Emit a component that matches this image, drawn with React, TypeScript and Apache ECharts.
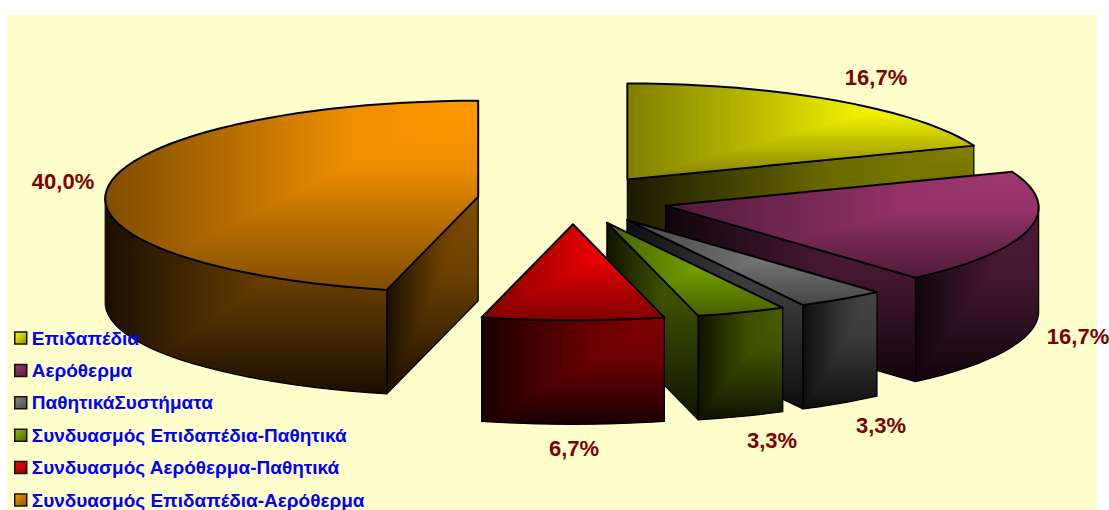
import React, { useEffect, useRef } from "react";
import * as echarts from "echarts";

const categories = [
  "Επιδαπέδια",
  "Αερόθερμα",
  "ΠαθητικάΣυστήματα",
  "Συνδυασμός Επιδαπέδια-Παθητικά",
  "Συνδυασμός Αερόθερμα-Παθητικά",
  "Συνδυασμός Επιδαπέδια-Αερόθερμα",
];
const values = [16.7, 16.7, 3.3, 3.3, 6.7, 40.0];
const palette = ["#FFFF00", "#A03670", "#8A8A8A", "#8CBF00", "#FF0000", "#FF9900"];
const labelAnchors = [
  [876, 77],
  [1078, 336],
  [881, 425],
  [772, 440],
  [574, 448],
  [63, 181],
];

const CX = 573;
const CY = 199.7;
const RX = 373;
const RY = 96;
const WALL = 104;
const EXPLODE = 0.256;
const NEAR_WIDEN = 0.02;
const ARC_STEP = 3;

const total = values.reduce((a, b) => a + b, 0);
const rad = (d: number) => (d * Math.PI) / 180;

type Pt = [number, number];

function shade(hex: string, k: number) {
  const n = parseInt(hex.slice(1), 16);
  const c = [(n >> 16) & 255, (n >> 8) & 255, n & 255].map((v) => Math.round(v * k));
  return `rgb(${c[0]},${c[1]},${c[2]})`;
}

function arcPts(c: Pt, a: number, b: number, dy = 0): Pt[] {
  const out: Pt[] = [];
  const n = Math.max(1, Math.ceil((b - a) / ARC_STEP));
  for (let i = 0; i <= n; i++) {
    const t = rad(a + ((b - a) * i) / n);
    const widen = 1 - NEAR_WIDEN * Math.cos(t);
    out.push([c[0] + RX * Math.sin(t) * widen, c[1] - RY * Math.cos(t) + dy]);
  }
  return out;
}

// keeps the part of the polygon on the lower-right of the line p -> q
function clipHalf(poly: Pt[], p: Pt, q: Pt): Pt[] {
  const side = (m: Pt) => (q[0] - p[0]) * (m[1] - p[1]) - (q[1] - p[1]) * (m[0] - p[0]);
  const out: Pt[] = [];
  for (let i = 0; i < poly.length; i++) {
    const a = poly[i];
    const b = poly[(i + 1) % poly.length];
    const sa = side(a);
    const sb = side(b);
    if (sa >= 0) out.push(a);
    if ((sa < 0 && sb > 0) || (sa > 0 && sb < 0)) {
      const t = sa / (sa - sb);
      out.push([a[0] + (b[0] - a[0]) * t, a[1] + (b[1] - a[1]) * t]);
    }
  }
  return out;
}

const TOP_LEVELS: Pt[] = [[0, 1], [0.35, 0.93], [0.65, 0.72], [1, 0.5]];
const WALL_LEVELS: Pt[] = [[0, 0.5], [0.4, 0.42], [1, 0.1]];

function facet(poly: Pt[], hex: string, levels: Pt[], lineWidth: number) {
  const xs = poly.map((p) => p[0]);
  const ys = poly.map((p) => p[1]);
  const xl = Math.min(...xs);
  const xr = Math.max(...xs);
  const yt = Math.min(...ys);
  const yb = Math.max(...ys);
  const stops = levels.map(([offset, k]) => ({ offset, color: shade(hex, k) }));
  const horiz = new echarts.graphic.LinearGradient(xr, 0, xl, 0, stops, true);
  const vert = new echarts.graphic.LinearGradient(0, yt, 0, yb, stops, true);
  const lower = clipHalf(poly, [xl, yb], [xr, yt]);
  const kids: any[] = [
    { type: "polygon", shape: { points: poly }, style: { fill: horiz } },
  ];
  if (lower.length > 2) {
    kids.push({ type: "polygon", shape: { points: lower }, style: { fill: vert } });
  }
  kids.push({
    type: "polygon",
    shape: { points: poly },
    style: { fill: "none", stroke: "#000", lineWidth, lineJoin: "round" },
  });
  return kids;
}

function renderSlice(index: number) {
  return (_params: any, api: any) => {
    const before = values.slice(0, index).reduce((a, b) => a + b, 0);
    const value = api.value(0) as number;
    const a = (before / total) * 360;
    const b = ((before + value) / total) * 360;
    const mid = rad((a + b) / 2);
    const c: Pt = [
      CX + EXPLODE * RX * Math.sin(mid),
      CY - EXPLODE * RY * Math.cos(mid),
    ];
    const hex = palette[index];
    const children: any[] = [];
    const radialWall = (ang: number) => {
      const [e] = arcPts(c, ang, ang);
      const poly: Pt[] = [c, e, [e[0], e[1] + WALL], [c[0], c[1] + WALL]];
      children.push(...facet(poly, hex, WALL_LEVELS, 1.2));
    };
    if (Math.sin(rad(b)) > 0.01) radialWall(b);
    if (Math.sin(rad(a)) < -0.01) radialWall(a);
    const wa = Math.max(a, 90);
    const wb = Math.min(b, 270);
    if (wb > wa) {
      const poly = [
        ...arcPts(c, wa, wb),
        ...arcPts(c, wa, wb, WALL).reverse(),
      ];
      children.push(...facet(poly, hex, WALL_LEVELS, 1.2));
    }
    children.push(...facet([c, ...arcPts(c, a, b)], hex, TOP_LEVELS, 2));
    const [lx, ly] = labelAnchors[index];
    children.push({
      type: "text",
      x: lx,
      y: ly,
      z2: 10,
      style: {
        text: value.toFixed(1).replace(".", ",") + "%",
        fill: "#800000",
        font: 'bold 22px "Liberation Sans", Arial, sans-serif',
        align: "center",
        verticalAlign: "middle",
      },
    });
    return { type: "group", children };
  };
}

export default function App() {
  const ref = useRef<HTMLDivElement>(null);
  useEffect(() => {
    document.body.style.margin = "0";
    const chart = echarts.init(ref.current!, undefined, { renderer: "svg" });
    chart.setOption({
      animation: false,
      backgroundColor: "#FFFFFF",
      graphic: [
        {
          type: "rect",
          z: -1,
          shape: { x: 7, y: 15, width: 1090, height: 525 },
          style: { fill: "#FFFFCC" },
        },
      ],
      legend: {
        orient: "vertical",
        left: 14,
        top: 328.5,
        padding: 0,
        itemWidth: 12,
        itemHeight: 12,
        itemGap: 13.4,
        selectedMode: false,
        icon: "rect",
        textStyle: {
          color: "#0000FF",
          fontWeight: "bold",
          fontSize: 19,
          fontFamily: '"Liberation Sans", Arial, sans-serif',
        },
        data: categories.map((name, i) => ({
          name,
          itemStyle: {
            color: new echarts.graphic.LinearGradient(0, 0, 1, 1, [
              { offset: 0, color: shade(palette[i], 1) },
              { offset: 1, color: shade(palette[i], 0.55) },
            ]),
            borderColor: "#111",
            borderWidth: 1.5,
          },
        })),
      },
      series: categories.map((name, i) => ({
        type: "custom",
        name,
        coordinateSystem: "none",
        silent: true,
        clip: false,
        data: [[values[i]]],
        renderItem: renderSlice(i),
      })),
    });
    return () => chart.dispose();
  }, []);
  return (
    <div style={{ width: 1109, height: 510, overflow: "hidden" }}>
      <div ref={ref} style={{ width: 1109, height: 540 }} />
    </div>
  );
}
